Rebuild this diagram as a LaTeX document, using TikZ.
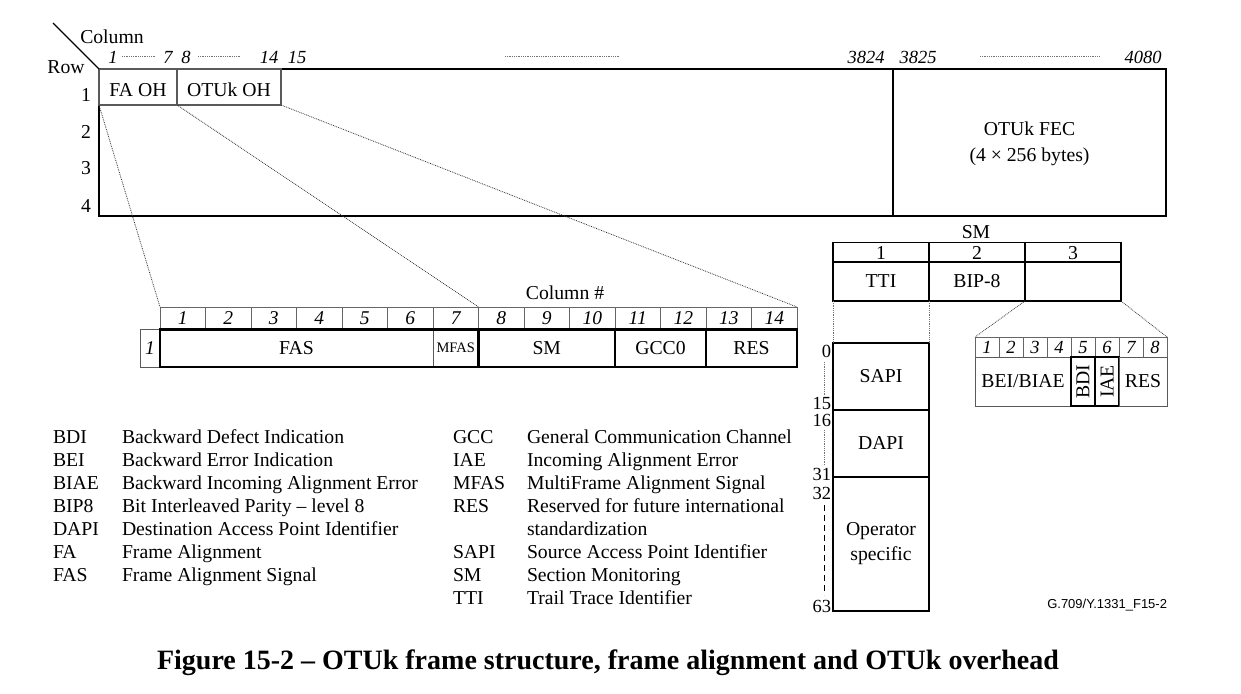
\documentclass[tikz,border=0pt]{standalone}
\usepackage{fontspec}
\usetikzlibrary{calc}
\setmainfont{Liberation Serif}
\newfontfamily\arialf{Liberation Sans}
\newcommand\fsz[2]{\fontsize{#1}{#2}\selectfont}
\begin{document}
\begin{tikzpicture}[x=1pt,y=-1pt,
  cell/.style={draw=black, line width=1.1pt, inner sep=0pt, outer sep=0pt, align=center, font=\fsz{19.7}{25}},
  graycell/.style={cell, draw=black!65},
  numcell/.style={cell, draw=black!60, line width=0.9pt, font=\fsz{19.5}{23}\itshape, text height=13pt, text depth=0pt},
  hdrcell/.style={cell, text height=13pt, text depth=0pt},
  lbl/.style={inner sep=0pt, outer sep=0pt, font=\fsz{19.7}{23}},
  ilbl/.style={lbl, font=\fsz{18.5}{22}\itshape},
  conn/.style={black!80, line width=0.8pt, densely dotted},
  dots/.style={black!55, line width=0.8pt, densely dotted},
  thickline/.style={line width=2.6pt, line cap=rect},
]
\useasboundingbox (0,0) rectangle (1241,693);

% ---------- top frame ----------
\node[cell, minimum width=1067, minimum height=147] (frame) at (632.5,142.5) {};
\node[cell, minimum width=273, minimum height=147] (fec) at (1029.5,142.5) {};
\node[lbl, align=center, font=\fsz{19.7}{25.5}] (fect) at (1029.5,144) {OTUk FEC\\(4 × 256 bytes)};
\node[graycell, line width=1.6pt, minimum width=78, minimum height=36] (faoh) at (138,87) {};
\node[graycell, line width=1.6pt, minimum width=104, minimum height=36] (otuk) at (229,87) {};
\node[lbl] (faoht) at (138,90) {FA OH};
\node[lbl] (otukt) at (229,90) {OTUk OH};
\coordinate (diagA) at (53,23);
\draw[line width=1.1pt] (diagA) -- (frame.north west);
\node[lbl] (colw) at (112,37) {Column};
\node[lbl] (roww) at (66,67) {Row};
\foreach \r/\yy in {1/95,2/132,3/168,4/206} \node[lbl] (row\r) at (86,\yy) {\r};
\foreach \t/\xx in {1/113,7/168,8/186,14/269,15/297,3824/866,3825/918,4080/1143}
  \node[ilbl] (col\t) at (\xx,57) {\t};
\coordinate (d1a) at (122,56); \coordinate (d1b) at (155,56);
\coordinate (d2a) at (198,56); \coordinate (d2b) at (240,56);
\coordinate (d3a) at (505,56); \coordinate (d3b) at (620,56);
\coordinate (d4a) at (980,56); \coordinate (d4b) at (1100,56);
\draw[dots] (d1a) -- (d1b);
\draw[dots] (d2a) -- (d2b); \draw[dots] (d3a) -- (d3b); \draw[dots] (d4a) -- (d4b);

% ---------- OTUk overhead row ----------
\node[lbl] (colhash) at (565,293) {Column \#};
\foreach \i in {1,...,14}
  \node[numcell, minimum width=45.5, minimum height=22.5] (n\i) at ({160+(\i-0.5)*45.5},318.25) {\i};
\node[graycell, line width=0.9pt, minimum width=20, minimum height=37.5, font=\fsz{19.5}{23}\itshape] (one) at (150,348.25) {1};
\node[graycell, line width=0.9pt, minimum width=273, minimum height=37.5] (fas) at (296.5,348.25) {FAS};
\node[graycell, line width=0.9pt, minimum width=45.5, minimum height=37.5, font=\fsz{14.5}{16}] (mfas) at (455.75,348.25) {MFAS};
\node[cell, minimum width=136.5, minimum height=37.5] (sm) at (546.75,348.25) {SM};
\node[cell, minimum width=91, minimum height=37.5] (gcc) at (660.5,348.25) {GCC0};
\node[cell, minimum width=91, minimum height=37.5] (res) at (751.5,348.25) {RES};
\draw[thickline] (fas.north west) rectangle (res.south east);
\draw[thickline] (mfas.north east) -- (mfas.south east);
\draw[thickline] (sm.north east) -- (sm.south east);
\draw[thickline] (gcc.north east) -- (gcc.south east);

\draw[conn] (faoh.south west) -- (n1.north west);
\draw[conn] (faoh.south east) -- (n7.north east);
\draw[conn] (otuk.south east) -- (n14.north east);

% ---------- SM detail ----------
\node[lbl] (smt) at (976,232) {SM};
\foreach \i/\xx in {1/881,2/977,3/1073}
  \node[hdrcell, minimum width=96, minimum height=19.5] (smh\i) at (\xx,252.5) {\i};
\node[cell, minimum width=96, minimum height=39] (tti) at (881,281.5) {TTI};
\node[cell, minimum width=96, minimum height=39] (bip) at (977,281.5) {BIP-8};
\node[cell, minimum width=96, minimum height=39] (smb3) at (1073,281.5) {};

\node[cell, minimum width=96, minimum height=67] (sapi) at (881,376.5) {SAPI};
\node[cell, minimum width=96, minimum height=67] (dapi) at (881,443.5) {DAPI};
\node[cell, minimum width=96, minimum height=134] (oper) at (881,544) {Operator\\specific};
\draw[dots] (tti.south west) -- (sapi.north west);
\draw[dots] (tti.south east) -- (sapi.north east);

\foreach \t/\yy in {0/351,15/403,16/420,31/474,32/493,63/606}
  \node[lbl, anchor=east, font=\fsz{18.5}{22}] (idx\t) at (831,\yy) {\t};
\coordinate (m1a) at (824,362); \coordinate (m1b) at (824,395);
\coordinate (m2a) at (824,430); \coordinate (m2b) at (824,465);
\coordinate (m3a) at (824,505); \coordinate (m3b) at (824,595);
\draw[dots] (m1a) -- (m1b);
\draw[dots] (m2a) -- (m2b);
\draw[line width=0.9pt, dash pattern=on 6pt off 4pt] (m3a) -- (m3b);

% bit table
\foreach \i in {1,...,8}
  \node[numcell, minimum width=24, minimum height=20, font=\fsz{18.5}{22}\itshape, text height=12.5pt] (b\i) at ({975+(\i-0.5)*24},347) {\i};
\node[graycell, line width=1pt, minimum width=96, minimum height=49] (bei) at (1023,381.5) {BEI/BIAE};
\node[cell, line width=1.5pt, minimum width=24, minimum height=49] (bdi) at (1083,381.5) {\rotatebox{90}{BDI}};
\node[cell, line width=1.5pt, minimum width=24, minimum height=49] (iae) at (1107,381.5) {\rotatebox{90}{IAE}};
\node[graycell, line width=1pt, minimum width=48, minimum height=49] (bres) at (1143,381.5) {RES};
\draw[conn] (smb3.south west) -- (b1.north west);
\draw[conn] (smb3.south east) -- (b8.north east);

\node[lbl, anchor=east, font=\arialf\fsz{13}{15}] (fig) at (1167,605) {G.709/Y.1331\_F15-2};

% ---------- legend ----------
\foreach \a/\d [count=\k] in {BDI/Backward Defect Indication, BEI/Backward Error Indication,
  BIAE/Backward Incoming Alignment Error, BIP8/Bit Interleaved Parity – level 8,
  DAPI/Destination Access Point Identifier, FA/Frame Alignment, FAS/Frame Alignment Signal}{
  \node[lbl, anchor=base west] (la\k) at (53,{443.5+(\k-1)*23}) {\a};
  \node[lbl, anchor=base west] (ld\k) at (122,{443.5+(\k-1)*23}) {\d};
}
\foreach \a/\d [count=\k] in {GCC/General Communication Channel, IAE/Incoming Alignment Error,
  MFAS/MultiFrame Alignment Signal, RES/Reserved for future international,
  {}/standardization, SAPI/Source Access Point Identifier, SM/Section Monitoring,
  TTI/Trail Trace Identifier}{
  \node[lbl, anchor=base west] (lb\k) at (453,{443.5+(\k-1)*23}) {\a};
  \node[lbl, anchor=base west] (le\k) at (527,{443.5+(\k-1)*23}) {\d};
}

% ---------- caption ----------
\node[lbl, font=\bfseries\fsz{28}{32}] (title) at (608,663) {Figure 15-2 – OTUk frame structure, frame alignment and OTUk overhead};
\end{tikzpicture}
\end{document}
